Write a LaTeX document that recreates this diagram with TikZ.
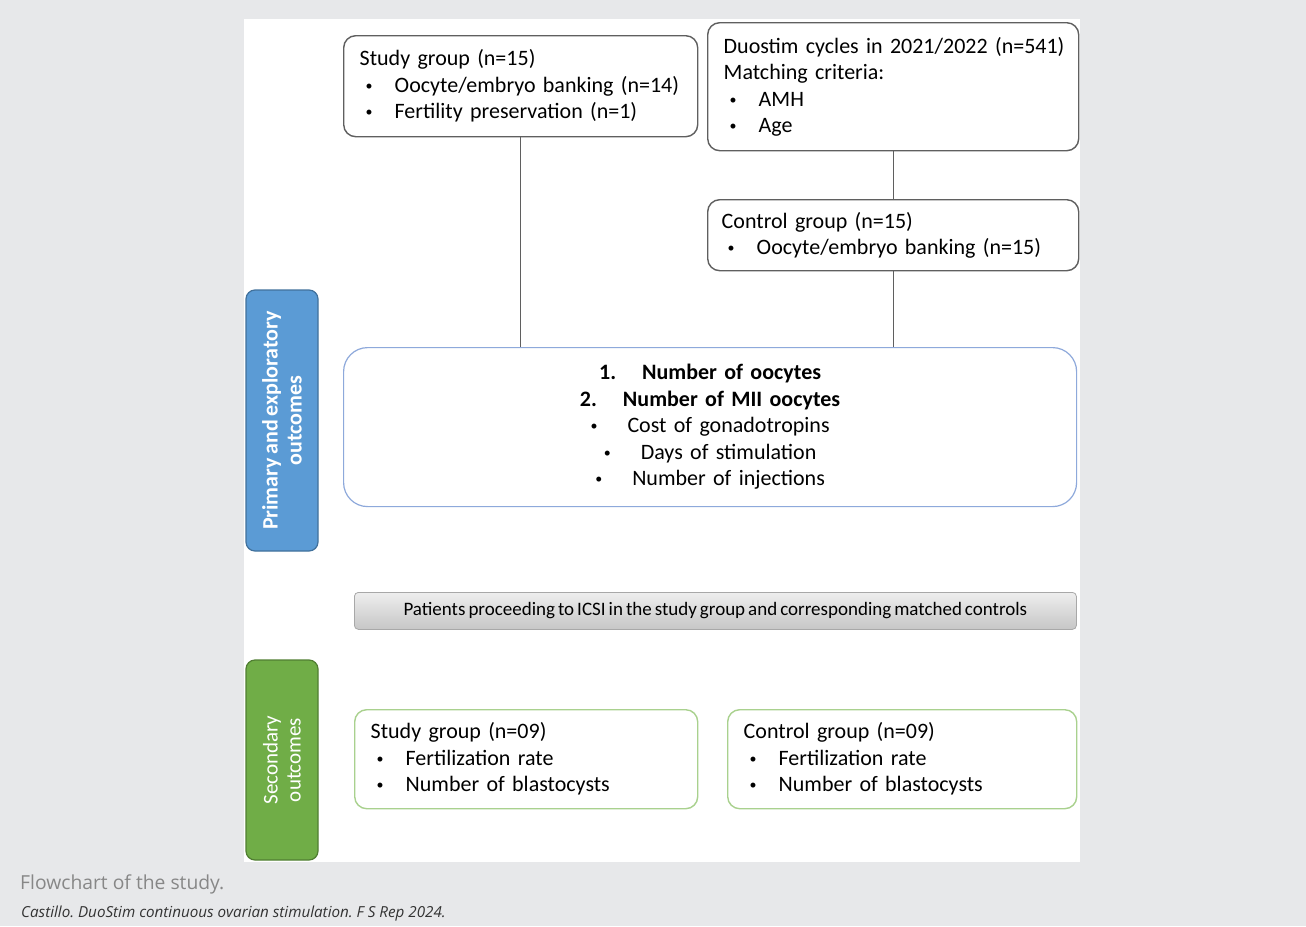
\documentclass[tikz,border=0pt]{standalone}
\usepackage{fontspec}
\setmainfont{Carlito}[WordSpace=0.7]
\newfontfamily\capfont{Open Sans}
\usetikzlibrary{positioning}
\frenchspacing

\definecolor{pagegray}{HTML}{E7E8EA}
\definecolor{boxline}{HTML}{5F5F5F}
\definecolor{outline}{HTML}{8EA9DB}
\definecolor{primblue}{HTML}{5B9BD5}
\definecolor{primedge}{HTML}{41719C}
\definecolor{secgreen}{HTML}{70AD47}
\definecolor{secedge}{HTML}{507E32}
\definecolor{grnline}{HTML}{A9D18E}
\definecolor{bartop}{HTML}{EEEEEE}
\definecolor{barbot}{HTML}{C6C6C6}

\newcommand{\dotb}{\raisebox{2pt}{\fontsize{14}{14}\selectfont\textbullet}}
\newcommand{\bitem}[1]{\hspace*{6pt}\makebox[29pt][l]{\dotb}#1}

\tikzset{
  grpbox/.style={draw=boxline, line width=1.4pt, rounded corners=12pt, anchor=north west,
    align=left, inner xsep=16pt, inner ysep=0pt, font=\fontsize{22}{26.5}\selectfont},
  sidebox/.style={rounded corners=9pt, line width=1.2pt, rotate=90, minimum height=72pt,
    text=white, align=center},
}

\begin{document}
\begin{tikzpicture}[x=1pt,y=-1pt]

\fill [pagegray] (0,0) rectangle (1306,926);%背景
\useasboundingbox (0,0) rectangle (1306,926);
\fill [white] (244,19) rectangle (1080,862);%白色面板

% 上部方框
\node [grpbox, text width=322pt, minimum height=101pt] (study) at (343,35)
  {Study group (n=15)\\ \bitem{Oocyte/embryo banking (n=14)}\\ \bitem{Fertility preservation (n=1)}};
\node [grpbox, text width=347pt, minimum height=128pt, inner xsep=12pt] (duostim) at (707,22)
  {\hspace*{4pt}Duostim cycles in 2021/2022 (n=541)\\ \hspace*{4pt}Matching criteria:\\ \hspace*{4pt}\bitem{AMH}\\ \hspace*{4pt}\bitem{Age}};
\node [grpbox, text width=343pt, minimum height=71pt, inner xsep=14pt] (control) at (707,199)
  {Control group (n=15)\\ \bitem{Oocyte/embryo banking (n=15)}};

% 结果方框
\node [grpbox, draw=outline, line width=1.2pt, rounded corners=24pt, align=center,
  text width=701pt, minimum height=159pt] (outcomes) at (343,347)
  {\textbf{1.\hspace{26pt}Number of oocytes}\\
   \textbf{2.\hspace{26pt}Number of MII oocytes}\\
   \dotb\hspace{30pt}Cost of gonadotropins\\
   \dotb\hspace{30pt}Days of stimulation\\
   \dotb\hspace{30pt}Number of injections};

\draw [boxline, line width=1.2pt] (study.south) -- (study.south |- outcomes.north);%连线
\draw [boxline, line width=1.2pt] (duostim.south) -- (control.north);
\draw [boxline, line width=1.2pt] (control.south) -- (control.south |- outcomes.north);

% 侧边标签
\node [sidebox, fill=primblue, draw=primedge, minimum width=261pt,
  font=\bfseries\fontsize{22}{24}\selectfont] (primary) at (282,420.5)
  {Primary and exploratory\\ outcomes};
\node [sidebox, fill=secgreen, draw=secedge, minimum width=200pt,
  font=\fontsize{21}{23}\selectfont] (secondary) at (282,760)
  {Secondary\\ outcomes};

% 灰色横条
\node [anchor=north west, draw=barbot!85!black, line width=0.8pt, rounded corners=4pt,
  top color=bartop, bottom color=barbot, minimum width=722pt, minimum height=37pt,
  font=\fontsize{19}{21}\selectfont] (icsi) at (354,592)
  {Patients proceeding to ICSI in the study group and corresponding matched controls};

% 下部方框
\node [grpbox, draw=grnline, line width=1.4pt, text width=311pt, minimum height=99pt] (study09) at (354,709)
  {Study group (n=09)\\ \bitem{Fertilization rate}\\ \bitem{Number of blastocysts}};
\node [grpbox, draw=grnline, line width=1.4pt, text width=317pt, minimum height=99pt] (control09) at (727,709)
  {Control group (n=09)\\ \bitem{Fertilization rate}\\ \bitem{Number of blastocysts}};

% 图注
\node [anchor=west, inner sep=0pt, text=black!47, font=\capfont\fontsize{19.3}{22}\selectfont] (title) at (20,884)
  {Flowchart of the study.};
\node [anchor=west, inner sep=0pt, text=black!80, font=\capfont\itshape\fontsize{15.2}{17}\selectfont] (source) at (21,914)
  {Castillo. DuoStim continuous ovarian stimulation. F S Rep 2024.};

\end{tikzpicture}
\end{document}
